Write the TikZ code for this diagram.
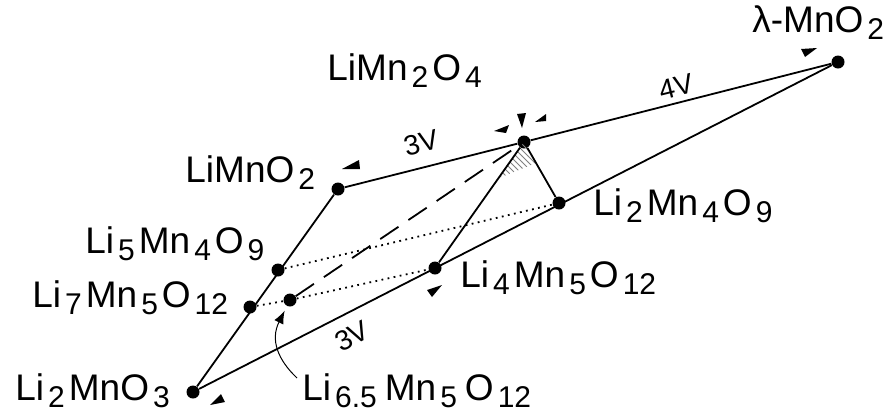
\documentclass[tikz,border=0pt]{standalone}
\usepackage{fontspec}
\setmainfont{Liberation Sans}
\usetikzlibrary{patterns,arrows.meta}
\newcommand{\chsub}[1]{\kern2pt\raisebox{-3.5pt}{\fontsize{15}{15}\selectfont #1}\kern2pt}
\begin{document}
\begin{tikzpicture}[x=0.5pt,y=-0.5pt]

    \tikzset{
      phase/.style={
        circle,
        fill=black,
        inner sep=0pt,
        minimum size=6.5pt,
      },
      formula/.style={inner sep=0pt, anchor=base west, font=\fontsize{18.5}{20}\selectfont},
      volt/.style={inner sep=0pt, font=\fontsize{14}{16}\selectfont},
      solidline/.style={line width=0.9pt},
      longdash/.style={line width=0.9pt, dash pattern=on 11pt off 6pt},
      dotline/.style={line width=0.9pt, dash pattern=on 0.9pt off 2.2pt},
    }
    \useasboundingbox (0,0) rectangle (893,414);

	% phases
	\node[phase] (A) at (193,392) {};
	\node[phase] (R) at (250,307) {};
	\node[phase] (T) at (290,300) {};
	\node[phase] (Q) at (278,270) {};
	\node[phase] (B) at (338,189) {};
	\node[phase] (P) at (435,268) {};
	\node[phase] (S) at (524,142) {};
	\node[phase] (N) at (559,203) {};
	\node[phase] (L) at (838,62) {};

	\fill[pattern=north west lines, pattern color=gray] (S.center) -- (499,178) -- (536,163) -- cycle;

	\draw[solidline] (A) -- (L);
	\draw[solidline] (A) -- (B) -- (S) -- (L);
	\draw[solidline] (S) -- (N);
	\draw[solidline] (S) -- (P);
	\draw[longdash] (T) -- (S);
	\draw[dotline] (Q) -- (N);
	\draw[dotline] (R) -- (T) -- (P);

	% small wedges
	\fill (494,131) -- (509,125) -- (506,133) -- cycle;
	\fill (522,128) -- (517,114) -- (526,113) -- cycle;
	\fill (535,122) -- (546,114) -- (546,121) -- cycle;
	\fill (210,405) -- (221,394) -- (225,402) -- cycle;
	\fill (342,169) -- (359,160) -- (360,169) -- cycle;
	\fill (805,57) -- (801,49) -- (817,48) -- cycle;
	\fill (432,297) -- (427,290) -- (442,285) -- cycle;

	\node[formula] (lA) at (15,400) {Li\chsub{2}MnO\chsub{3}};
	\node[formula] (lR) at (32,307) {Li\chsub{7}Mn\chsub{5}O\chsub{12}};
	\node[formula] (lQ) at (85,253) {Li\chsub{5}Mn\chsub{4}O\chsub{9}};
	\node[formula] (lB) at (185,182) {LiMnO\chsub{2}};
	\node[formula] (lS) at (327,80) {LiMn\chsub{2}O\chsub{4}};
	\node[formula] (lL) at (752,32) {λ-MnO\chsub{2}};
	\node[formula] (lN) at (593,215) {Li\chsub{2}Mn\chsub{4}O\chsub{9}};
	\node[formula] (lP) at (460,287) {Li\chsub{4}Mn\chsub{5}O\chsub{12}};
	\node[formula] (lT) at (302,400) {Li\chsub{6.5}\kern2pt Mn\chsub{5}\kern2pt O\chsub{12}};

	\node[volt, rotate=14] (v3a) at (421,143) {3V};
	\node[volt, rotate=14] (v4) at (676,87) {4V};
	\node[volt, rotate=27] (v3b) at (352,336) {3V};

	\coordinate (c65) at (297,378);
	\draw[line width=0.5pt, -{Latex[length=6.5pt,width=5pt]}, shorten >=2.5pt] (c65) .. controls (278,360) and (270,340) .. (T);

\end{tikzpicture}
\end{document}
